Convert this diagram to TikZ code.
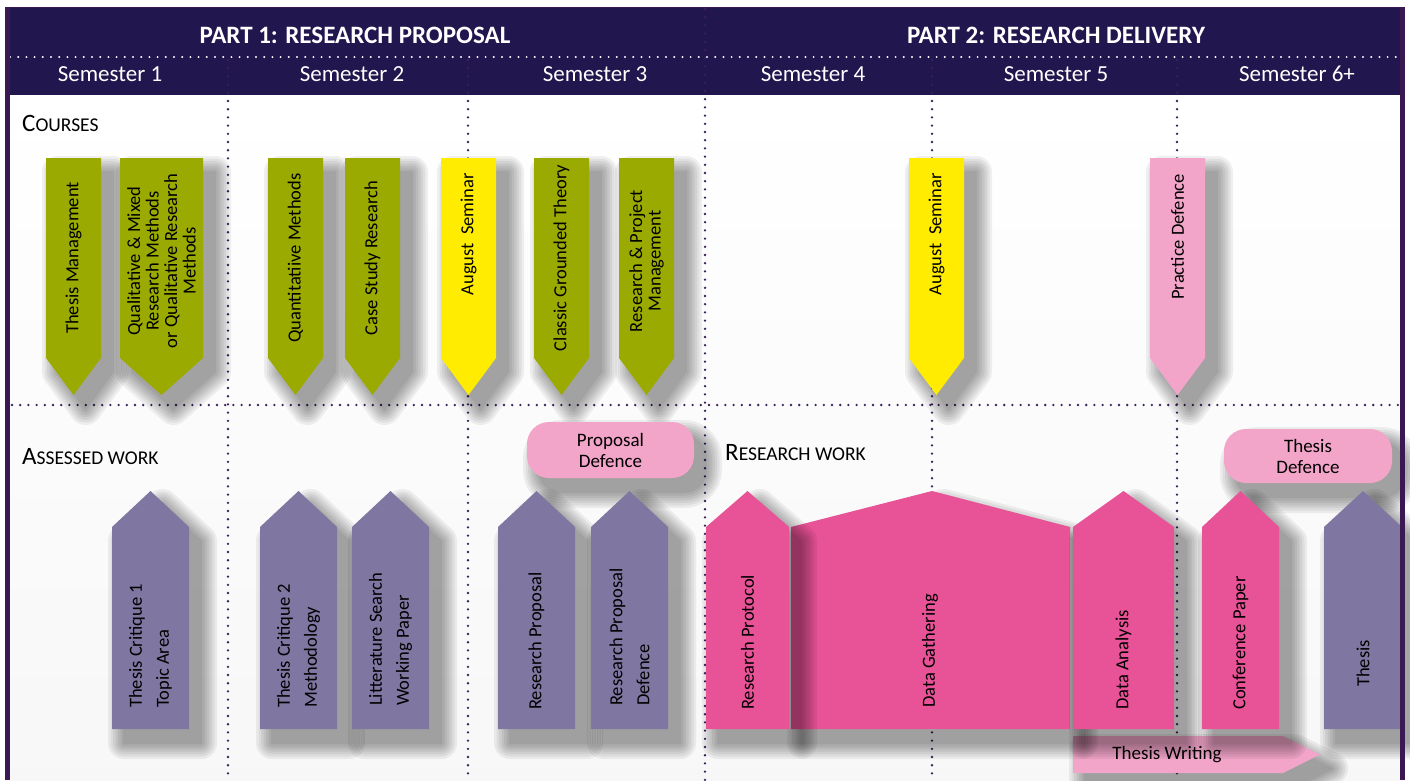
\documentclass[tikz,border=0pt]{standalone}
\usepackage{fontspec}
\setmainfont{Carlito}
\definecolor{hdrpurple}{HTML}{22164F}
\definecolor{framepurple}{HTML}{3A1852}
\definecolor{dotpurple}{HTML}{3D1E5C}
\definecolor{coursegreen}{HTML}{9AAA00}
\definecolor{seminaryellow}{HTML}{FFEC00}
\definecolor{softpink}{HTML}{F2A5C9}
\definecolor{hotpink}{HTML}{E85296}
\definecolor{workpurple}{HTML}{7F76A1}
\def\fakesc#1#2{{\fontsize{25}{25}\selectfont #1}{\fontsize{19.5}{19.5}\selectfont #2}}
% soft shadow: stacked translucent copies, shifted right and down
\def\softshadow[#1]#2{\foreach \w in {32,27,22,17,12,7,2}{\begin{scope}[transparency group, opacity=0.058, shift={(12pt,-14pt)}]\filldraw[shadowlayer, #1, line width=\w pt] #2;\end{scope}}}
\def\coursetab[#1](#2:#3){\softshadow[]{(#2,158) -- (#3,158) -- (#3,358) -- ({(#2+#3)/2},395) -- (#2,358) -- cycle}
	\fill[#1] (#2,158) -- (#3,158) -- (#3,358) -- ({(#2+#3)/2},395) -- (#2,358) -- cycle;}
\def\worktab[#1](#2:#3){\softshadow[]{(#2,729) -- (#2,527) -- ({(#2+#3)/2},491) -- (#3,527) -- (#3,729) -- cycle}
	\fill[#1] (#2,729) -- (#2,527) -- ({(#2+#3)/2},491) -- (#3,527) -- (#3,729) -- cycle;}
\tikzset{
  shadowlayer/.style={draw=black, fill=black, line join=round},
  tablabel/.style={rotate=90, inner sep=0pt, text=black, font=\fontsize{18.5}{18.5}\selectfont},
  courselabel/.style={tablabel, align=center},
  toplabel/.style={tablabel, anchor=east},
  worklabel/.style={tablabel, anchor=west, align=left, font=\fontsize{18.5}{27}\selectfont},
  dotline/.style={draw=dotpurple, line width=2.6pt, line cap=round, dash pattern=on 0pt off 8.2pt},
  semlabel/.style={anchor=base, text=white, font=\fontsize{23}{23}\selectfont},
  partlabel/.style={anchor=base, text=white, font=\fontsize{25}{25}\selectfont\bfseries},
  sectionhead/.style={anchor=base west, inner sep=0pt, text=black},
  defencebox/.style={fill=softpink, rounded corners=22pt, align=center, font=\fontsize{19}{21}\selectfont}
}
\begin{document}
\begin{tikzpicture}[x=1pt, y=-1pt]
		%%%%% FRAME %%%%%
		\useasboundingbox (0,0) rectangle (1410,780);
		\fill[white] (0,0) rectangle (1410,780);
		\fill[framepurple] (5,7) rectangle (1405,780);
		\fill[hdrpurple] (6,8) rectangle (1404,95);
		\shade[top color=white, bottom color=black!3] (10,95) rectangle (1400,780);
		
		\draw[white, line width=2.2pt, line cap=round, dash pattern=on 0pt off 8.2pt] (10,57) -- (1400,57);
		\draw[dotline] (705,9) -- (705,780);
		\foreach \xs in {228,468,932,1177}
			\draw[dotline] (\xs,60) -- (\xs,780);
		\draw[dotline] (12,405) -- (1400,405);
		
		%%%%% HEADER %%%%%
		\node[partlabel] (part1) at (355,43) {PART 1: RESEARCH PROPOSAL};
		\node[partlabel] (part2) at (1056,43) {PART 2: RESEARCH DELIVERY};
		\node[semlabel] (sem1) at (110,81) {Semester 1};
		\node[semlabel] (sem2) at (352,81) {Semester 2};
		\node[semlabel] (sem3) at (595,81) {Semester 3};
		\node[semlabel] (sem4) at (813,81) {Semester 4};
		\node[semlabel] (sem5) at (1056,81) {Semester 5};
		\node[semlabel] (sem6) at (1297,81) {Semester 6+};
		
		%%%%% COURSES %%%%%
		\node[sectionhead] (courses) at (22,131) {\fakesc{C}{OURSES}};
		
		\coursetab[coursegreen](46:101)
		\coursetab[coursegreen](120:203)
		\coursetab[coursegreen](268:323)
		\coursetab[coursegreen](345:400)
		\coursetab[seminaryellow](441:496)
		\coursetab[coursegreen](534:589)
		\coursetab[coursegreen](619:674)
		\coursetab[seminaryellow](909:964)
		\coursetab[softpink](1150:1205)
		
		\node[courselabel] (thesismgmt) at (73.5,258) {Thesis Management};
		\node[courselabel] (qualmixed) at (161.5,261) {Qualitative \& Mixed\\Research Methods\\or Qualitative Research\\Methods};
		\node[courselabel] (quantmeth) at (295.5,258) {Quantitatiive Methods};
		\node[courselabel] (casestudy) at (372.5,258) {Case Study Research};
		\node[toplabel] (augsem1) at (468.5,173) {August\ \ Seminar};
		\node[courselabel] (grounded) at (561.5,258) {Classic Grounded Theory};
		\node[courselabel] (projmgmt) at (646.5,261) {Research \& Project\\Management};
		\node[toplabel] (augsem2) at (936.5,173) {August\ \ Seminar};
		\node[toplabel] (practice) at (1177.5,174) {Practice Defence};
		
		%%%%% ASSESSED WORK %%%%%
		\node[sectionhead] (assessed) at (22,464) {\fakesc{A}{SSESSED WORK}};
		\node[sectionhead] (researchwork) at (725,460) {\fakesc{R}{ESEARCH WORK}};
		
		\softshadow[rounded corners=22pt]{(527,422) rectangle (694,478)}
		\softshadow[rounded corners=22pt]{(1224,429) rectangle (1392,483)}
		\node[defencebox, minimum width=167, minimum height=56] (propdef) at (610.5,450) {Proposal\\Defence};
		\node[defencebox, minimum width=168, minimum height=54] (thesisdef) at (1308,456) {Thesis\\Defence};
		
		\softshadow[]{(1073,736) -- (1283,736) -- (1320,754.5) -- (1283,773) -- (1073,773) -- cycle}
		\fill[softpink] (1073,736) -- (1283,736) -- (1320,754.5) -- (1283,773) -- (1073,773) -- cycle;
		\node[font=\fontsize{19}{19}\selectfont, inner sep=0pt] (writing) at (1167,755) {Thesis Writing};
		
		\worktab[workpurple](112:189)
		\worktab[workpurple](260:337)
		\worktab[workpurple](352:429)
		\worktab[workpurple](498:575)
		\worktab[workpurple](591:668)
		
		\softshadow[]{(791,729) -- (791,527) -- (932,491) -- (1070,527) -- (1070,729) -- cycle}
		\fill[hotpink] (791,729) -- (791,527) -- (932,491) -- (1070,527) -- (1070,729) -- cycle;
		\worktab[hotpink](706:789)
		\worktab[hotpink](1073:1174)
		\worktab[hotpink](1202:1279)
		\worktab[workpurple](1324:1402)
		
		\node[worklabel] (critique1) at (150.5,708) {Thesis Critique 1\\Topic Area};
		\node[worklabel] (critique2) at (298.5,708) {Thesis Critique 2\\Methodology};
		\node[worklabel] (litsearch) at (390.5,706) {Litterature Search\\Working Paper};
		\node[worklabel] (proposal) at (536.5,710) {Research Proposal};
		\node[worklabel] (propdefence) at (629.5,706) {Research Proposal\\Defence};
		\node[worklabel] (protocol) at (747.5,710) {Research Protocol};
		\node[worklabel] (gathering) at (930,708) {Data Gathering};
		\node[worklabel] (analysis) at (1123.5,710) {Data Analysis};
		\node[worklabel] (confpaper) at (1240.5,710) {Conference Paper};
		\node[worklabel] (thesis) at (1363,687) {Thesis};
		
		\fill[framepurple] (1400,8) rectangle (1405,780);
		\fill[framepurple] (5,8) rectangle (10,780);
		%%%%% END %%%%%
	\end{tikzpicture}
\end{document}
